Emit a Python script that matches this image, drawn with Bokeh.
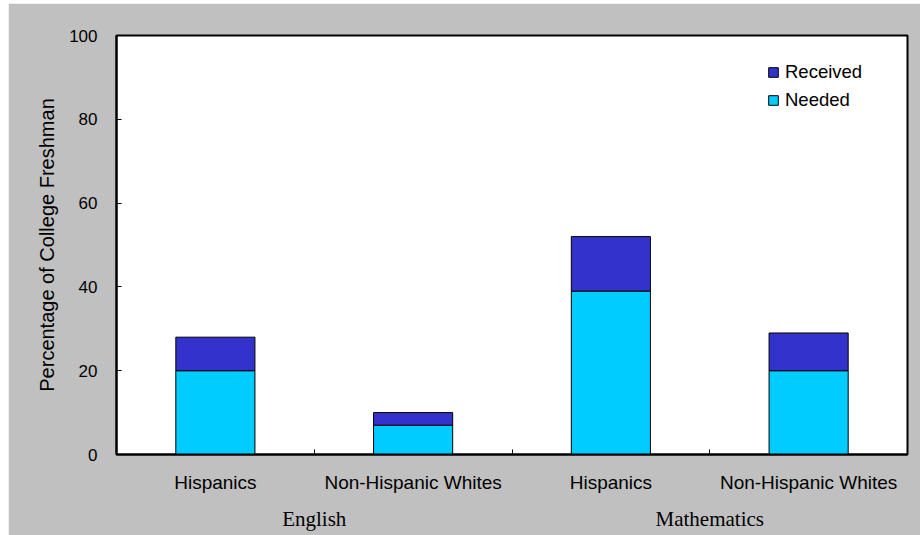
from bokeh.plotting import figure
from bokeh.models import (ColumnDataSource, Range1d, LinearAxis, FixedTicker,
                          Legend, LegendItem)
from bokeh.embed import file_html
from bokeh.resources import INLINE

# ---- data ----
categories = ["Hispanics", "Non-Hispanic Whites", "Hispanics", "Non-Hispanic Whites"]
groups = ["English", "Mathematics"]
needed = [20, 7, 39, 20]
received = [8, 3, 13, 9]
y_ticks = [0, 20, 40, 60, 80, 100]

x_pos = [i + 0.5 for i in range(len(categories))]
bounds = [i for i in range(1, len(categories))]
group_pos = [i * 2 + 1 for i in range(len(groups))]

src = ColumnDataSource(dict(x=x_pos, needed=needed, received=received))

p = figure(width=912, height=532, output_backend="svg", toolbar_location=None,
           x_range=Range1d(0, len(categories)), y_range=Range1d(0, 100),
           x_axis_location=None, y_axis_location=None,
           min_border_left=108, min_border_right=13, min_border_top=32,
           min_border_bottom=81)
p.margin = (3, 0, 0, 8)
p.border_fill_color = "#c0c0c0"
p.background_fill_color = "white"
p.outline_line_color = "black"
p.outline_line_width = 2
p.xgrid.visible = False
p.ygrid.visible = False

rs = p.vbar_stack(["needed", "received"], x="x", width=0.4, source=src,
                  color=["#00ccff", "#3333cc"], line_color="black", line_width=1)

# y axis
yax = LinearAxis(ticker=FixedTicker(ticks=y_ticks, minor_ticks=[]),
                 axis_label="Percentage of College Freshman")
yax.axis_line_width = 2
yax.axis_line_color = "black"
yax.major_tick_in = 5
yax.major_tick_out = 0
yax.major_tick_line_color = "black"
yax.minor_tick_line_color = None
yax.major_label_standoff = 19
yax.major_label_text_font = "Liberation Sans"
yax.major_label_text_font_size = "17px"
yax.major_label_text_color = "black"
yax.axis_label_text_font = "Liberation Sans"
yax.axis_label_text_font_size = "20px"
yax.axis_label_text_font_style = "normal"
yax.axis_label_text_color = "black"
yax.axis_label_standoff = 8
p.add_layout(yax, "left")

# x axis (categories)
xax = LinearAxis(ticker=FixedTicker(ticks=x_pos, minor_ticks=bounds))
xax.major_label_overrides = {x: c for x, c in zip(x_pos, categories)}
xax.axis_line_width = 2
xax.axis_line_color = "black"
xax.major_tick_line_color = None
xax.major_tick_in = 0
xax.major_tick_out = 0
xax.minor_tick_in = 5
xax.minor_tick_out = 0
xax.minor_tick_line_color = "black"
xax.major_label_standoff = 17
xax.major_label_text_font = "Liberation Sans"
xax.major_label_text_font_size = "19px"
xax.major_label_text_color = "black"
p.add_layout(xax, "below")

# group axis
gax = LinearAxis(ticker=FixedTicker(ticks=group_pos, minor_ticks=[]))
gax.major_label_overrides = {x: g for x, g in zip(group_pos, groups)}
gax.axis_line_color = None
gax.major_tick_line_color = None
gax.minor_tick_line_color = None
gax.major_tick_in = 0
gax.major_tick_out = 0
gax.major_label_standoff = 11
gax.major_label_text_font = "Liberation Serif"
gax.major_label_text_font_size = "21px"
gax.major_label_text_color = "black"
p.add_layout(gax, "below")

legend = Legend(items=[LegendItem(label="Received", renderers=[rs[1]]),
                       LegendItem(label="Needed", renderers=[rs[0]])],
                location=(651, 343))
legend.border_line_color = None
legend.background_fill_alpha = 0
legend.padding = 0
legend.margin = 0
legend.spacing = 6
legend.glyph_width = 12
legend.glyph_height = 12
legend.label_height = 20
legend.label_standoff = 6
legend.label_text_font = "Liberation Sans"
legend.label_text_font_size = "18.5px"
legend.label_text_color = "black"
p.add_layout(legend)

open("out.html", "w").write(file_html(p, INLINE))
